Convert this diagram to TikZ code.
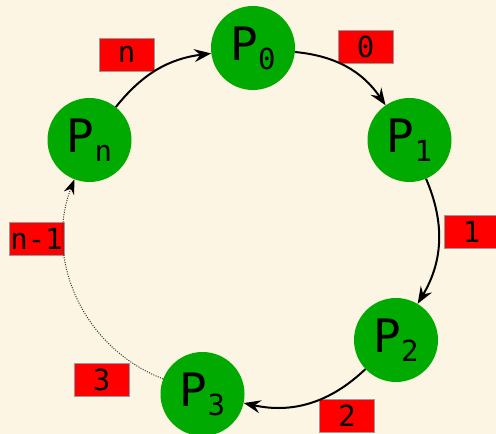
\documentclass[tikz,border=0pt]{standalone}
\usepackage{fontspec}
\setmainfont{DejaVu Sans Mono}
\usetikzlibrary{arrows.meta}
\definecolor{bgcream}{RGB}{252,245,227}
\definecolor{pgreen}{RGB}{0,170,0}
\newcommand\procname[1]{{\fontsize{46}{46}\selectfont P}\raisebox{-9pt}{\fontsize{29}{29}\selectfont #1}}
\begin{document}
\begin{tikzpicture}[x=1pt,y=1pt,
  proc/.style={circle,fill=pgreen,minimum size=84pt,inner sep=0pt},
  lbl/.style={fill=red,draw=gray!80,line width=0.6pt,minimum width=55pt,minimum height=33pt,inner sep=0pt,font=\fontsize{29}{29}\selectfont},
  arr/.style={line width=2pt,-{Stealth[length=17pt,width=13pt,inset=6pt]}},
  dotarr/.style={line width=1pt,dash pattern=on 1pt off 1.4pt,draw=black!80,-{Stealth[length=15pt,width=11pt,inset=5pt,color=black]}}
]
\fill[bgcream] (0,0) rectangle (496,434);
\useasboundingbox (0,0) rectangle (496,434);

\node[proc] (P0) at (253,386) {\procname{0}};
\node[proc] (P1) at (409.5,294) {\procname{1}};
\node[proc] (P2) at (396,94) {\procname{2}};
\node[proc] (P3) at (202.5,40) {\procname{3}};
\node[proc] (Pn) at (89.5,294) {\procname{n}};

\node[lbl] (Ln) at (126.5,379.5) {n};
\node[lbl] (L0) at (365.5,387.5) {0};
\node[lbl] (L1) at (471.5,202.5) {1};
\node[lbl] (L2) at (347,18) {2};
\node[lbl] (L3) at (101.5,54.5) {3};
\node[lbl] (Ln1) at (36.5,195.5) {n-1};

\draw[arr] (P0) to[bend left=25] (P1);
\draw[arr] (P1) to[bend left=27] (P2);
\draw[arr] (P2) to[bend left=28] (P3);
\draw[dotarr] (P3) to[bend left=45] (Pn);
\draw[arr] (Pn) to[bend left=22] (P0);
\end{tikzpicture}
\end{document}
